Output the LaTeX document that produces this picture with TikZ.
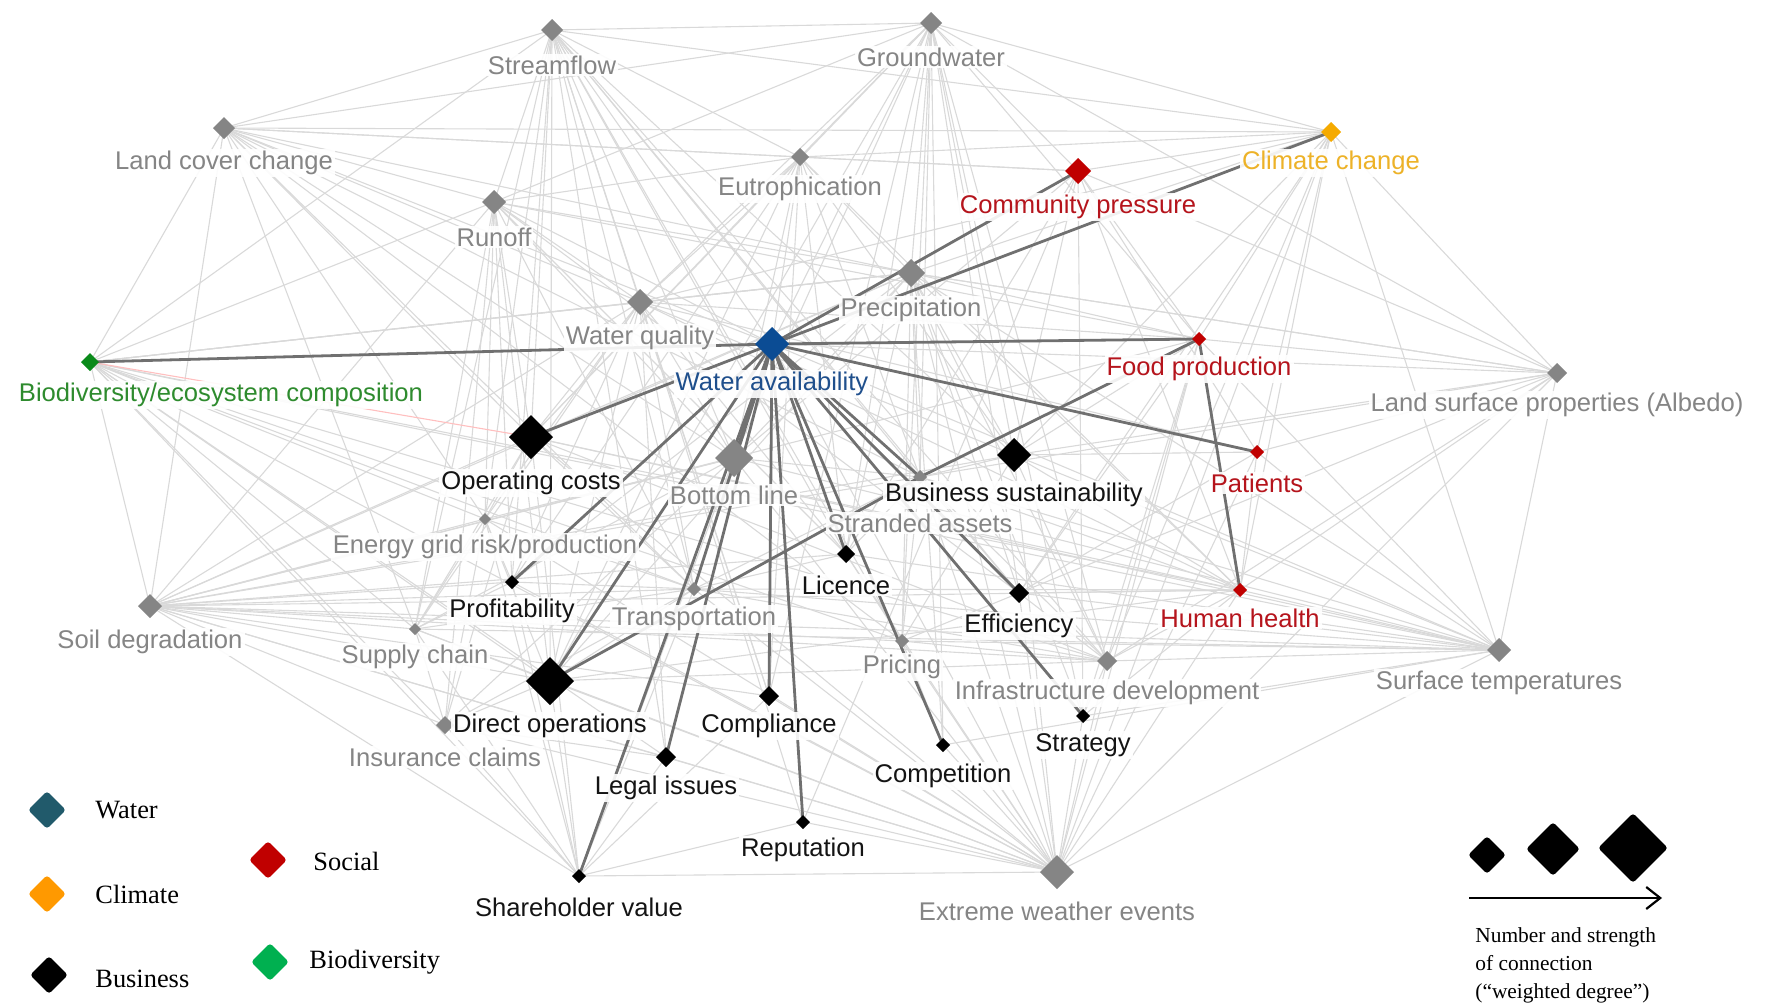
\documentclass[tikz,border=0pt]{standalone}
\usepackage{fontspec}
\setmainfont{Liberation Sans}
\newfontfamily\legf{Liberation Serif}
\usetikzlibrary{shapes.geometric,arrows.meta}
\definecolor{cgray}{HTML}{858585}
\definecolor{glab}{HTML}{858585}
\definecolor{cred}{HTML}{C00000}
\definecolor{rlab}{HTML}{B5141C}
\definecolor{corange}{HTML}{F5AA00}
\definecolor{olab}{HTML}{EDB228}
\definecolor{cblue}{HTML}{0B4C94}
\definecolor{blab}{HTML}{1F4F8C}
\definecolor{cgreen}{HTML}{0A8A1A}
\definecolor{grlab}{HTML}{2E8B2E}
\definecolor{lwater}{HTML}{215A6B}
\definecolor{lclim}{HTML}{FF9900}
\definecolor{lsoc}{HTML}{C00000}
\definecolor{lbio}{HTML}{00B050}
\definecolor{dedge}{HTML}{707070}
\pgfdeclarelayer{bg}\pgfdeclarelayer{mid}\pgfsetlayers{bg,mid,main}
\begin{document}
\begin{tikzpicture}[x=0.5pt,y=-0.5pt,
  mk/.style={diamond,aspect=1,inner sep=0pt,outer sep=0pt,minimum size=#1 pt},
  gm/.style={mk=#1,fill=cgray},
  bm/.style={mk=#1,fill=black},
  rm/.style={mk=#1,fill=cred},
  lab/.style={font=\fontsize{12.8}{14}\selectfont,fill=white,fill opacity=0.9,text opacity=1,inner sep=1pt},
  gl/.style={lab,text=glab},
  bl/.style={lab,text=black!92},
  rl/.style={lab,text=rlab},
  ledge/.style={draw=black!15,line width=0.55pt},
  dedg/.style={draw=dedge,line width=1.4pt},
  legd/.style={diamond,aspect=1,inner sep=0pt,minimum size=#1 pt,rounded corners=1.5pt},
  legt/.style={font=\legf\fontsize{13.2}{15}\selectfont,anchor=west,inner sep=0pt}
]
\useasboundingbox (0,0) rectangle (1768,1007);

% markers
\node[gm=11] (sf) at (552,30) {};
\node[gm=11] (gw) at (931,23) {};
\node[gm=11] (lcc) at (224,128) {};
\node[gm=9] (eut) at (800,157) {};
\node[rm=13] (cp) at (1078,171) {};
\node[mk=10,fill=corange] (cc) at (1331,132) {};
\node[gm=12] (ro) at (494,202) {};
\node[gm=14] (pr) at (911,273) {};
\node[gm=13] (wq) at (640,302) {};
\node[mk=17,fill=cblue] (wa) at (772,344) {};
\node[mk=9,fill=cgreen] (bio) at (90,362) {};
\node[rm=7] (fp) at (1199,339) {};
\node[gm=10] (lsp) at (1557,373) {};
\node[bm=22] (oc) at (531,437) {};
\node[gm=19] (bl) at (734,458) {};
\node[bm=17] (bs) at (1014,455) {};
\node[rm=7] (pat) at (1257,452) {};
\node[gm=7] (sa) at (920,477) {};
\node[gm=6] (eg) at (485,519) {};
\node[bm=9] (lic) at (846,554) {};
\node[bm=7] (prof) at (512,582) {};
\node[gm=7] (tr) at (694,589) {};
\node[bm=10] (eff) at (1019,593) {};
\node[rm=7] (hh) at (1240,590) {};
\node[gm=12] (soil) at (150,606) {};
\node[gm=6] (sc) at (415,629) {};
\node[gm=7] (pri) at (902,641) {};
\node[gm=10] (inf) at (1107,661) {};
\node[gm=12] (st) at (1499,650) {};
\node[bm=24] (dop) at (550,681) {};
\node[bm=10] (comp) at (769,696) {};
\node[gm=9] (ins) at (445,725) {};
\node[bm=7] (strat) at (1083,716) {};
\node[bm=7] (compt) at (943,745) {};
\node[bm=10] (legal) at (666,757) {};
\node[bm=7] (rep) at (803,822) {};
\node[bm=7] (shv) at (579,876) {};
\node[gm=17] (ew) at (1057,872) {};

% light web
\begin{pgfonlayer}{bg}
\foreach \a/\b in {sf/lcc,sf/gw,sf/ro,sf/wq,sf/wa,sf/oc,sf/bl,sf/tr,sf/prof,sf/sc,sf/dop,sf/eg,sf/lic,sf/eff,sf/sa,sf/pri,sf/bs,sf/eut,sf/bio,sf/comp,sf/legal,sf/inf,
 gw/eut,gw/wq,gw/wa,gw/pr,gw/bs,gw/bl,gw/lic,gw/sa,gw/eff,gw/pri,gw/inf,gw/strat,gw/compt,gw/fp,gw/ro,gw/lcc,gw/cc,gw/comp,gw/oc,gw/dop,gw/cp,
 lcc/bio,lcc/soil,lcc/ro,lcc/wq,lcc/eut,lcc/wa,lcc/oc,lcc/bl,lcc/tr,lcc/eg,lcc/sc,lcc/pr,lcc/sa,lcc/cp,lcc/pri,
 eut/wq,eut/wa,eut/oc,eut/bl,eut/bs,eut/sa,eut/ro,eut/pr,eut/cp,eut/hh,eut/lic,eut/comp,eut/dop,eut/prof,
 cp/fp,cp/bs,cp/hh,cp/lic,cp/rep,cp/strat,cp/cc,cp/bl,cp/pat,
 cc/lsp,cc/st,cc/fp,cc/pr,cc/hh,cc/eut,cc/inf,cc/bs,cc/lcc,cc/pat,cc/ew,cc/eff,cc/sf,cc/wq,
 ro/bio,ro/soil,ro/wq,ro/wa,ro/oc,ro/prof,ro/eg,ro/sc,ro/dop,ro/bl,ro/pr,ro/tr,ro/ins,ro/lic,ro/eff,ro/fp,
 pr/wq,pr/fp,pr/bs,pr/bl,pr/oc,pr/sa,pr/eff,pr/inf,pr/st,pr/hh,pr/lsp,pr/lic,pr/pri,pr/strat,pr/ew,pr/bio,pr/soil,pr/dop,pr/prof,pr/compt,
 wq/bio,wq/soil,wq/oc,wq/bl,wq/dop,wq/prof,wq/eg,wq/tr,wq/fp,wq/hh,wq/pat,wq/comp,wq/legal,wq/rep,wq/bs,wq/sc,wq/lic,
 bio/soil,bio/eg,bio/sc,bio/dop,bio/legal,bio/ew,bio/ins,bio/shv,bio/st,bio/tr,bio/hh,bio/pri,bio/inf,bio/pr,
 soil/sc,soil/eg,soil/ins,soil/dop,soil/oc,soil/prof,soil/tr,soil/shv,soil/ew,soil/legal,soil/comp,soil/st,soil/hh,soil/bs,soil/fp,soil/sa,soil/pri,soil/inf,soil/bl,soil/lic,
 st/lsp,st/hh,st/pat,st/fp,st/eff,st/inf,st/bs,st/strat,st/ew,st/sa,st/pri,st/lic,st/compt,st/wa,st/bl,st/oc,st/tr,st/sc,
 lsp/fp,lsp/hh,lsp/pat,lsp/bs,lsp/eff,lsp/gw,lsp/wa,lsp/pr,lsp/ew,lsp/sa,lsp/inf,lsp/cp,
 ew/shv,ew/dop,ew/ins,ew/legal,ew/comp,ew/rep,ew/compt,ew/strat,ew/inf,ew/eff,ew/hh,ew/sc,ew/pri,ew/tr,ew/lic,ew/bl,ew/oc,ew/prof,ew/eg,ew/fp,ew/pat,ew/bs,ew/sa,ew/wa,
 ins/dop,ins/shv,ins/sc,ins/oc,ins/eg,ins/legal,ins/bl,ins/tr,
 shv/dop,shv/legal,shv/sc,shv/eg,shv/comp,shv/rep,shv/tr,shv/prof,shv/oc,shv/bl,
 hh/fp,hh/pat,hh/bs,hh/eff,hh/inf,hh/sa,hh/strat,hh/oc,hh/dop,hh/tr,
 pat/bs,pat/eff,inf/eff,inf/strat,inf/bs,inf/sa,inf/pri,inf/tr,inf/dop,inf/oc,
 eg/prof,eg/oc,eg/sc,eg/tr,eg/dop,eg/bl,sc/dop,sc/tr,sc/oc,sc/prof,sc/bl,
 tr/dop,tr/bl,tr/lic,tr/sa,tr/oc,tr/prof,pri/compt,pri/lic,pri/sa,pri/eff,pri/bs,
 sa/lic,sa/bs,sa/eff,sa/bl,fp/bs,fp/eff,fp/inf,fp/strat}
 \draw[ledge] (\a.center) -- (\b.center);
\draw[draw=red!25,line width=0.55pt] (bio.center) -- (oc.center);
\end{pgfonlayer}

% strong connections
\begin{pgfonlayer}{mid}
\foreach \b in {bio,cp,cc,fp,pat,oc,prof,dop,bl,shv,legal,comp,rep,lic,compt,eff,strat,sa,tr}
 \draw[dedg] (wa.center) -- (\b.center);
\draw[dedg] (fp.center) -- (hh.center);
\draw[dedg] (fp.center) -- (sa.center);
\draw[dedg] (dop.center) -- (sa.center);
\end{pgfonlayer}

% labels
\node[gl] (sf-l) at (552,65) {Streamflow};
\node[gl] (gw-l) at (931,57) {Groundwater};
\node[gl] (lcc-l) at (224,163) {Land cover change};
\node[gl] (eut-l) at (800,189) {Eutrophication};
\node[rl] (cp-l) at (1078,207) {Community pressure};
\node[lab,text=olab] (cc-l) at (1331,163) {Climate change};
\node[gl] (ro-l) at (494,237) {Runoff};
\node[gl] (pr-l) at (911,310) {Precipitation};
\node[gl] (wq-l) at (640,338) {Water quality};
\node[lab,text=blab] (wa-l) at (772,384) {Water availability};
\node[lab,text=grlab] (bio-l) at (221,395) {Biodiversity/ecosystem composition};
\node[rl] (fp-l) at (1199,369) {Food production};
\node[gl] (lsp-l) at (1557,405) {Land surface properties (Albedo)};
\node[bl] (oc-l) at (531,483) {Operating costs};
\node[gl] (bl-l) at (734,495) {Bottom line};
\node[bl] (bs-l) at (1014,495) {Business sustainability};
\node[rl] (pat-l) at (1257,483) {Patients};
\node[gl] (sa-l) at (920,523) {Stranded assets};
\node[gl] (eg-l) at (485,547) {Energy grid risk/production};
\node[bl] (lic-l) at (846,585) {Licence};
\node[bl] (prof-l) at (512,611) {Profitability};
\node[gl] (tr-l) at (694,619) {Transportation};
\node[bl] (eff-l) at (1019,626) {Efficiency};
\node[rl] (hh-l) at (1240,618) {Human health};
\node[gl] (soil-l) at (150,642) {Soil degradation};
\node[gl] (sc-l) at (415,657) {Supply chain};
\node[gl] (pri-l) at (902,667) {Pricing};
\node[gl] (inf-l) at (1107,693) {Infrastructure development};
\node[gl] (st-l) at (1499,683) {Surface temperatures};
\node[bl] (dop-l) at (550,726) {Direct operations};
\node[bl] (comp-l) at (769,726) {Compliance};
\node[gl] (ins-l) at (445,757) {Insurance claims};
\node[bl] (strat-l) at (1083,745) {Strategy};
\node[bl] (compt-l) at (943,776) {Competition};
\node[bl] (legal-l) at (666,788) {Legal issues};
\node[bl] (rep-l) at (803,850) {Reputation};
\node[bl] (shv-l) at (579,907) {Shareholder value};
\node[gl] (ew-l) at (1057,911) {Extreme weather events};

% legend
\node[legd=19,fill=lwater] (lw) at (47,810) {};
\node[legt] (lw-t) at (95,810) {Water};
\node[legd=19,fill=lclim] (lc) at (47,894) {};
\node[legt] (lc-t) at (95,894) {Climate};
\node[legd=19,fill=black] (lb) at (49,975) {};
\node[legt] (lb-t) at (95,979) {Business};
\node[legd=19,fill=lsoc] (ls) at (268,860) {};
\node[legt] (ls-t) at (313,861) {Social};
\node[legd=19,fill=lbio] (lbd) at (270,962) {};
\node[legt] (lbd-t) at (309,962) {Biodiversity};

\node[legd=19,fill=black] (s1) at (1487,855) {};
\node[legd=27,fill=black] (s2) at (1553,849) {};
\node[legd=35,fill=black] (s3) at (1633,848) {};
\coordinate (arS) at (1469,898);
\coordinate (arE) at (1662,898);
\draw[line width=1.1pt,-{Straight Barb[length=7pt,width=11pt]}] (arS) -- (arE);
\node[font=\legf\fontsize{10.7}{14}\selectfont,anchor=north west,align=left,inner sep=0pt] (sz-t) at (1475,927)
 {Number and strength\\of connection\\(“weighted degree”)};
\end{tikzpicture}
\end{document}
